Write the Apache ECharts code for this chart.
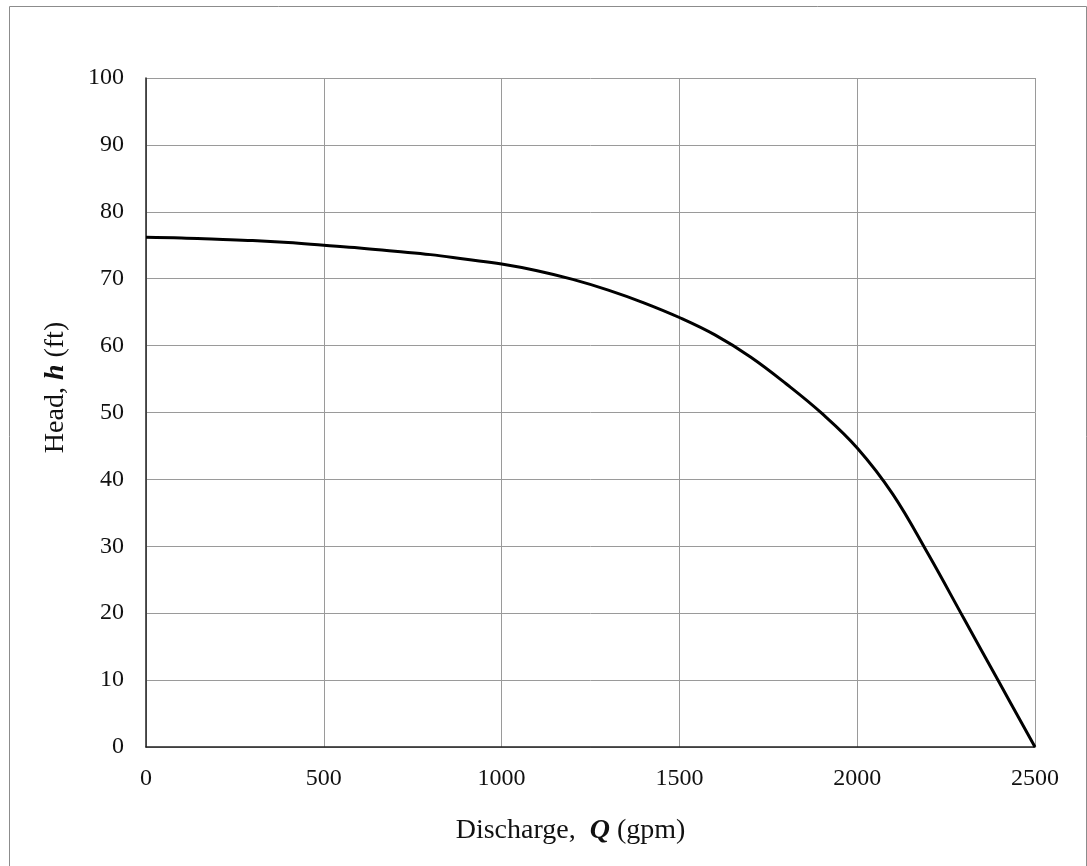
<!DOCTYPE html>
<html>
<head>
<meta charset="utf-8">
<script src="https://cdn.jsdelivr.net/npm/echarts@6/dist/echarts.min.js"></script>
<style>
    html, body { margin: 0; padding: 0; background: #fff; }
    #chart { width: 1087px; height: 866px; }
</style>
</head>
<body>
<div id="chart"></div>
<script>
// pump curve
var discharge = [0, 100, 200, 300, 400, 500, 600, 700, 800, 900, 1000, 1100, 1200,
    1300, 1400, 1500, 1600, 1700, 1800, 1900, 2000, 2100, 2200, 2300, 2400, 2500];
var head = [76.2, 76.1, 75.9, 75.7, 75.4, 75.0, 74.6, 74.1, 73.6, 72.9, 72.2, 71.2, 69.9,
    68.3, 66.4, 64.2, 61.6, 58.3, 54.3, 49.9, 44.7, 37.8, 28.8, 19.2, 9.6, 0];
var xTicks = [0, 500, 1000, 1500, 2000, 2500];
var yTicks = [0, 10, 20, 30, 40, 50, 60, 70, 80, 90, 100];

function AddPumpChart(id) {
    var echart = echarts.init(document.getElementById(id));
    var points = new Array();
    discharge.map((q, i) => {
        points.push([q, head[i]]);
    });

    var font = 'Liberation Serif';
    var gridLine = { show: true, lineStyle: { color: '#9a9a9a', width: 1 } };

    var option = {
        backgroundColor: '#fff',
        animation: false,
        textStyle: { fontFamily: font },
        graphic: [{
            type: 'rect',
            left: 7, top: 4,
            shape: { width: 1077, height: 900 },
            style: { fill: 'none', stroke: '#8c8c8c', lineWidth: 1 },
            silent: true
        }],
        grid: {
            left: 146,
            top: 78,
            right: 52,
            bottom: 119
        },
        xAxis: {
            type: 'value',
            min: xTicks[0],
            max: xTicks[xTicks.length - 1],
            interval: 500,
            name: '{n|Discharge,  }{b|Q}{n| (gpm)}',
            nameLocation: 'middle',
            nameGap: 70,
            nameTextStyle: {
                rich: {
                    n: { fontFamily: font, fontSize: 28, color: '#111' },
                    b: { fontFamily: font, fontSize: 28, color: '#111', fontWeight: 'bold', fontStyle: 'italic' }
                },
                padding: [0, 40, 0, 0]
            },
            axisLine: { lineStyle: { color: '#222', width: 1.5 } },
            axisTick: { show: false },
            axisLabel: {
                fontFamily: font, fontSize: 24, color: '#111', margin: 20,
                formatter: function (v) { return String(v); }
            },
            splitLine: gridLine
        },
        yAxis: {
            type: 'value',
            min: yTicks[0],
            max: yTicks[yTicks.length - 1],
            interval: 10,
            name: '{n|Head, }{b|h}{n| (ft)}',
            nameLocation: 'middle',
            nameGap: 76,
            nameTextStyle: {
                rich: {
                    n: { fontFamily: font, fontSize: 28, color: '#111' },
                    b: { fontFamily: font, fontSize: 28, color: '#111', fontWeight: 'bold', fontStyle: 'italic' }
                },
                padding: [0, 0, 0, 50]
            },
            axisLine: { show: true, lineStyle: { color: '#222', width: 1.5 } },
            axisTick: { show: false },
            axisLabel: {
                fontFamily: font, fontSize: 24, color: '#111', margin: 22,
                formatter: function (v) { return String(v); }
            },
            splitLine: gridLine
        },
        series: [
            {
                name: 'Head',
                type: 'line',
                data: points,
                smooth: 0.4,
                showSymbol: false,
                lineStyle: { color: '#000', width: 3 }
            }
        ]
    };
    echart.setOption(option);
}

AddPumpChart('chart');
</script>
</body>
</html>
